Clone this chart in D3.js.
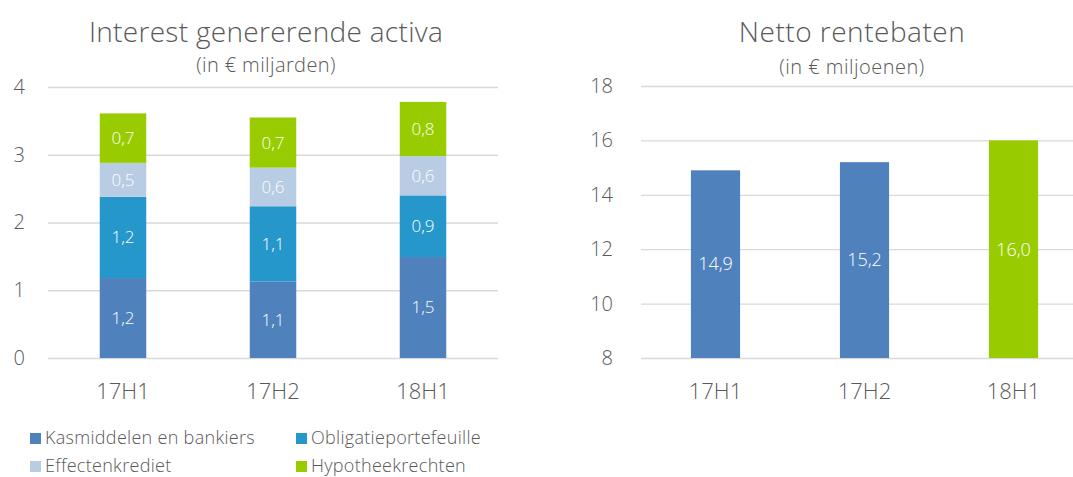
<!DOCTYPE html>
<html>
<head>
<meta charset="utf-8">
<script src="https://cdn.jsdelivr.net/npm/d3@7"></script>
<style>
  body { margin: 0; background: #fff; }
  svg text { font-family: "Open Sans", sans-serif; font-weight: 300; }
</style>
</head>
<body>
<script>
// data
var categories = ["17H1", "17H2", "18H1"];
var kasmiddelen = [1.18, 1.13, 1.49];
var obligaties = [1.20, 1.11, 0.91];
var effecten = [0.50, 0.57, 0.58];
var hypotheek = [0.73, 0.74, 0.80];
var seriesNames = ["Kasmiddelen en bankiers", "Obligatieportefeuille", "Effectenkrediet", "Hypotheekrechten"];
var seriesColors = ["#4F81BD", "#2597CB", "#B8CCE4", "#99CC00"];
var leftTicks = [0, 1, 2, 3, 4];

var netto = [14.9, 15.2, 16.0];
var nettoColors = ["#4F81BD", "#4F81BD", "#99CC00"];
var rightTicks = [8, 10, 12, 14, 16, 18];

var textColor = "#595959";
var gridColor = "#D9D9D9";
var fmt = function(v) { return d3.format(".1f")(v).replace(".", ","); };

var svg = d3.select("body").append("svg")
  .attr("width", 1073)
  .attr("height", 477);

// ---------- left chart: stacked bars ----------
var xL = d3.scaleBand().domain(categories).range([48, 498])
  .paddingInner(0.69).paddingOuter(0.345);
var yL = d3.scaleLinear().domain([0, 4]).range([358, 87]);

var gridL = svg.append("g").attr("transform", "translate(48,0)")
  .call(d3.axisLeft(yL).tickValues(leftTicks).tickFormat(d3.format("d")).tickSize(-450).tickPadding(23));
gridL.select(".domain").remove();
gridL.selectAll("line").attr("stroke", gridColor).attr("stroke-width", 1.3);
gridL.selectAll("text").attr("fill", textColor).style("font-size", "20px");

var rows = categories.map(function(c, i) {
  return { cat: c, s0: kasmiddelen[i], s1: obligaties[i], s2: effecten[i], s3: hypotheek[i] };
});
var stack = d3.stack().keys(["s0", "s1", "s2", "s3"])(rows);

var layers = svg.append("g").selectAll("g").data(stack).enter().append("g")
  .attr("fill", function(d, i) { return seriesColors[i]; });

layers.selectAll("rect").data(function(d) { return d; }).enter().append("rect")
  .attr("x", function(d) { return xL(d.data.cat); })
  .attr("width", xL.bandwidth())
  .attr("y", function(d) { return yL(d[1]); })
  .attr("height", function(d) { return yL(d[0]) - yL(d[1]); });

layers.selectAll("text").data(function(d) { return d; }).enter().append("text")
  .attr("x", function(d) { return xL(d.data.cat) + xL.bandwidth() / 2; })
  .attr("y", function(d) { return (yL(d[0]) + yL(d[1])) / 2; })
  .attr("dy", "0.35em")
  .attr("text-anchor", "middle")
  .attr("fill", "#fff")
  .style("font-size", "17px")
  .text(function(d) { return fmt(d[1] - d[0]); });

var xAxisL = svg.append("g").attr("transform", "translate(0,358)")
  .call(d3.axisBottom(xL).tickSize(0).tickPadding(25));
xAxisL.select(".domain").remove();
xAxisL.selectAll("text").attr("fill", textColor).style("font-size", "22px");

svg.append("text").attr("x", 266).attr("y", 42).attr("text-anchor", "middle")
  .attr("fill", textColor).style("font-size", "28px").style("letter-spacing", "0.3px")
  .text("Interest genererende activa");
svg.append("text").attr("x", 266).attr("y", 72).attr("text-anchor", "middle")
  .attr("fill", textColor).style("font-size", "20px").style("letter-spacing", "0.4px")
  .text("(in € miljarden)");

// legend
var legend = svg.append("g").selectAll("g").data(seriesNames).enter().append("g")
  .attr("transform", function(d, i) {
    return "translate(" + (i % 2 === 0 ? 30 : 296) + "," + (i < 2 ? 444 : 472) + ")";
  });
legend.append("rect").attr("x", 0).attr("y", -11).attr("width", 11).attr("height", 11)
  .attr("fill", function(d, i) { return seriesColors[i]; });
legend.append("text").attr("x", 15)
  .attr("fill", textColor).style("font-size", "18px").style("letter-spacing", "0.3px")
  .text(function(d) { return d; });

// ---------- right chart: netto rentebaten ----------
var xR = d3.scaleBand().domain(categories).range([641, 1088])
  .paddingInner(0.67).paddingOuter(0.335);
var yR = d3.scaleLinear().domain([8, 18]).range([358, 86]);

var gridR = svg.append("g").attr("transform", "translate(641,0)")
  .call(d3.axisLeft(yR).tickValues(rightTicks).tickSize(-447).tickPadding(28));
gridR.select(".domain").remove();
gridR.selectAll("line").attr("stroke", gridColor).attr("stroke-width", 1.3);
gridR.selectAll("text").attr("fill", textColor).style("font-size", "20px");

svg.append("g").selectAll("rect").data(netto).enter().append("rect")
  .attr("x", function(d, i) { return xR(categories[i]); })
  .attr("width", xR.bandwidth())
  .attr("y", function(d) { return yR(d); })
  .attr("height", function(d) { return yR(8) - yR(d); })
  .attr("fill", function(d, i) { return nettoColors[i]; });

svg.append("g").selectAll("text").data(netto).enter().append("text")
  .attr("x", function(d, i) { return xR(categories[i]) + xR.bandwidth() / 2; })
  .attr("y", function(d) { return (yR(8) + yR(d)) / 2; })
  .attr("dy", "0.35em")
  .attr("text-anchor", "middle")
  .attr("fill", "#fff")
  .style("font-size", "18px")
  .text(function(d) { return fmt(d); });

var xAxisR = svg.append("g").attr("transform", "translate(0,358)")
  .call(d3.axisBottom(xR).tickSize(0).tickPadding(25));
xAxisR.select(".domain").remove();
xAxisR.selectAll("text").attr("fill", textColor).style("font-size", "22px");

svg.append("text").attr("x", 852).attr("y", 42).attr("text-anchor", "middle")
  .attr("fill", textColor).style("font-size", "28px").style("letter-spacing", "0.5px")
  .text("Netto rentebaten");
svg.append("text").attr("x", 852).attr("y", 74).attr("text-anchor", "middle")
  .attr("fill", textColor).style("font-size", "20px").style("letter-spacing", "0.5px")
  .text("(in € miljoenen)");
</script>
</body>
</html>
